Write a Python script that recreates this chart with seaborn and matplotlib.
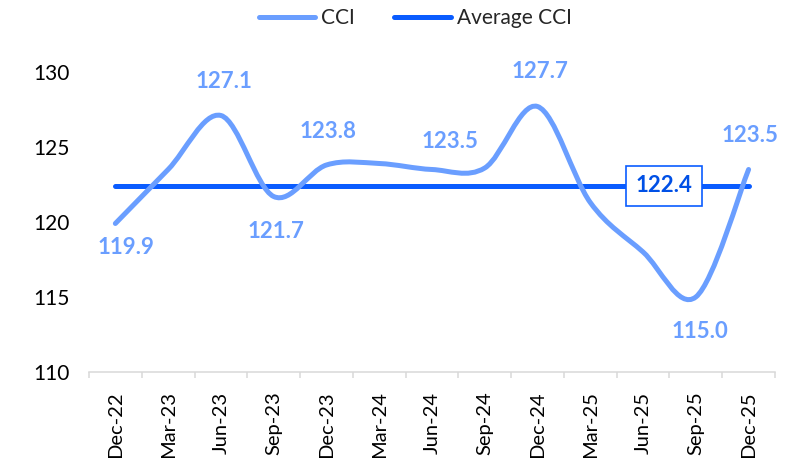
import numpy as np
import pandas as pd
import matplotlib
matplotlib.use("Agg")
import matplotlib.pyplot as plt
from matplotlib.path import Path
from matplotlib.patches import PathPatch
from matplotlib.lines import Line2D
import seaborn as sns

# data
quarters = ["Dec-22", "Mar-23", "Jun-23", "Sep-23", "Dec-23", "Mar-24", "Jun-24",
            "Sep-24", "Dec-24", "Mar-25", "Jun-25", "Sep-25", "Dec-25"]
cci = [119.9, 123.5, 127.1, 121.7, 123.8, 123.9, 123.5,
       123.6, 127.7, 121.3, 118.0, 115.0, 123.5]
avg_cci = 122.4
yticks = [110, 115, 120, 125, 130]

c_cci = "#6A9EFF"
c_avg = "#0A5CFF"
c_box_text = "#0050E6"

sns.set_theme(style="white")
plt.rcParams['font.family'] = ['Lato', 'DejaVu Sans']

df = pd.DataFrame({"quarter": quarters, "cci": cci})
df["x"] = np.arange(len(df))
df["avg"] = avg_cci

fig = plt.figure(figsize=(8.03, 4.58), dpi=100)
ax = fig.add_axes([0.1108, 0.1878, 0.8543, 0.655])

# smoothed line like excel: cubic bezier through the points (catmull-rom control points)
x = df["x"].to_numpy(float)
y = df["cci"].to_numpy(float)
xp = np.r_[x[0], x, x[-1]]
yp = np.r_[y[0], y, y[-1]]
verts = [(x[0], y[0])]
codes = [Path.MOVETO]
for i in range(len(y) - 1):
    c1 = (x[i] + (xp[i + 2] - xp[i]) / 6, y[i] + (yp[i + 2] - yp[i]) / 6)
    c2 = (x[i + 1] - (xp[i + 3] - xp[i + 1]) / 6, y[i + 1] - (yp[i + 3] - yp[i + 1]) / 6)
    verts += [c1, c2, (x[i + 1], y[i + 1])]
    codes += [Path.CURVE4] * 3
ax.add_patch(PathPatch(Path(verts, codes), facecolor="none", edgecolor=c_cci,
                       lw=3.6, capstyle="round", joinstyle="round", zorder=3))

sns.lineplot(data=df, x="x", y="avg", color=c_avg, lw=3.6, ax=ax,
             solid_capstyle="round", zorder=2, legend=False)

# data labels (offsets in points)
label_pos = {0: (8, -17), 2: (2, 24.5), 3: (2, -25), 4: (1.5, 24), 6: (13, 20),
             8: (2, 25), 11: (3, -25), 12: (1, 24.5)}
for i, off in label_pos.items():
    ax.annotate(f"{cci[i]:.1f}", (i, cci[i]), xytext=off, textcoords="offset points",
                ha="center", va="center", fontsize=16, fontweight="bold", color=c_cci)

ax.text(10.4, avg_cci, f"{avg_cci:.1f}", ha="center", va="center", fontsize=16,
        fontweight="bold", color=c_box_text, zorder=5,
        bbox=dict(boxstyle="square,pad=0.42", fc="white", ec=c_avg, lw=1.2))

ax.set_xlim(-0.5, len(quarters) - 0.5)
ax.set_ylim(110, 130)
ax.set_yticks(yticks)
ax.set_yticklabels([str(v) for v in yticks])
ax.set_xticks(df["x"])
ax.set_xticklabels(quarters, rotation=90)
ax.set_xticks(np.arange(-0.5, len(quarters), 1), minor=True)
ax.set_xlabel("")
ax.set_ylabel("")

for s in ["left", "top", "right"]:
    ax.spines[s].set_visible(False)
ax.spines["bottom"].set_color("#D9D9D9")
ax.spines["bottom"].set_linewidth(1.1)
ax.tick_params(axis="y", length=0, pad=14, labelsize=15, labelcolor="black")
ax.tick_params(axis="x", which="major", length=0, pad=14, labelsize=14.5, labelcolor="black")
ax.tick_params(axis="x", which="minor", length=4.3, width=1.1, color="#D9D9D9",
               bottom=True)
ax.grid(False)

handles = [Line2D([0], [0], color=c_cci, lw=3.6, solid_capstyle="round"),
           Line2D([0], [0], color=c_avg, lw=3.6, solid_capstyle="round")]
fig.legend(handles=handles, labels=["CCI", "Average CCI"], loc="center",
           bbox_to_anchor=(0.517, 0.96), ncol=2, frameon=False, fontsize=15,
           handlelength=2.7, handletextpad=0.3, columnspacing=1.9)

fig.savefig("out.png", dpi=100)
